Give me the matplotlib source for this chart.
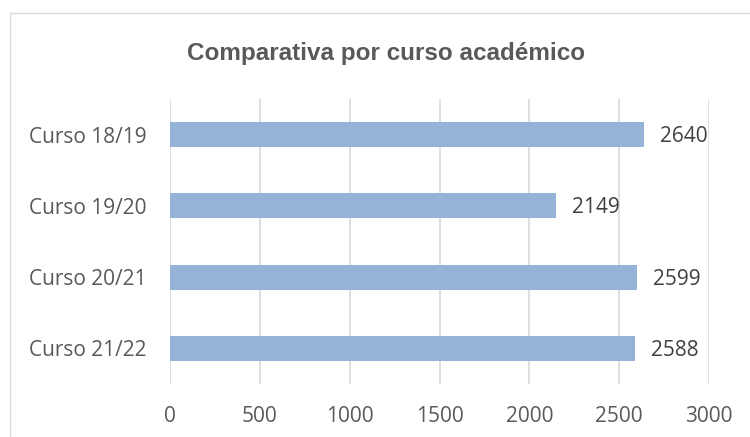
import matplotlib
matplotlib.use("Agg")
import matplotlib.pyplot as plt
from matplotlib.patches import Rectangle

categories = ["Curso 18/19", "Curso 19/20", "Curso 20/21", "Curso 21/22"]
values = [2640, 2149, 2599, 2588]
xticks = [0, 500, 1000, 1500, 2000, 2500, 3000]

W, H = 750, 437
fig = plt.figure(figsize=(W / 100, H / 100), dpi=100)
fig.patch.set_facecolor("white")

# outer chart border
fig.patches.append(Rectangle((10 / W, -0.05), 1.2, (H - 13) / H + 0.05,
                             transform=fig.transFigure, fill=False,
                             edgecolor="#D9D9D9", linewidth=1.0))

ax = fig.add_axes([170 / W, 1 - 384 / H, (709 - 170) / W, (384 - 99) / H])
ypos = list(range(len(categories)))
ax.barh(ypos, values, height=0.35, color="#95B3D7", zorder=2)
ax.set_ylim(len(categories) - 0.5, -0.5)
ax.set_xlim(0, 3000)
ax.set_xticks(xticks)
ax.set_xticklabels([str(t) for t in xticks])
ax.set_yticks(ypos)
ax.set_yticklabels(categories)
ax.grid(axis="x", color="#D9D9D9", linewidth=1.2, zorder=0)
for s in ax.spines.values():
    s.set_visible(False)
ax.tick_params(axis="both", length=0, labelsize=15, labelcolor="#595959")
ax.tick_params(axis="y", pad=17)
ax.tick_params(axis="x", pad=16)
for lab in ax.get_xticklabels() + ax.get_yticklabels():
    lab.set_fontfamily("Open Sans")

for y, v in zip(ypos, values):
    ax.annotate(str(v), (v, y), xytext=(11.5, -1.5), textcoords="offset points",
                va="center", ha="left", fontsize=15, color="#404040",
                family="Open Sans")

fig.text(386.5 / W, 1 - 60 / H, "Comparativa por curso académico",
         ha="center", va="baseline", fontsize=17.5, fontweight="bold",
         color="#595959", family="Liberation Sans")

fig.savefig("out.png", dpi=100)
